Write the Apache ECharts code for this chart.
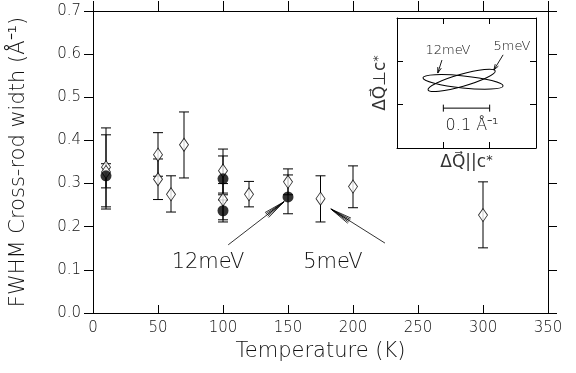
<!DOCTYPE html>
<html>
<head>
<meta charset="utf-8">
<script src="https://cdn.jsdelivr.net/npm/echarts@6/dist/echarts.min.js"></script>
<style>html,body{margin:0;padding:0;background:#fff;}#c{width:576px;height:373px;}</style>
</head>
<body>
<div id="c"></div>
<script>
// ---- main data (Temperature in K, FWHM in 1/Å) ----
const openT  = [10, 10, 50, 50, 60, 70, 100, 100, 120, 150, 175, 200, 300];
const openV  = [0.338, 0.327, 0.367, 0.310, 0.275, 0.390, 0.330, 0.263, 0.275, 0.304, 0.265, 0.293, 0.227];
const openLo = [0.246, 0.241, 0.317, 0.263, 0.234, 0.313, 0.278, 0.216, 0.246, 0.274, 0.211, 0.244, 0.151];
const openHi = [0.429, 0.413, 0.418, 0.357, 0.318, 0.466, 0.380, 0.300, 0.305, 0.334, 0.318, 0.341, 0.304];

const filledT  = [10, 100, 100, 150];
const filledV  = [0.318, 0.311, 0.237, 0.269];
const filledLo = [0.290, 0.274, 0.211, 0.230];
const filledHi = [0.346, 0.364, 0.262, 0.320];

const xTicks = [0, 50, 100, 150, 200, 250, 300, 350];
const yTicks = [0.0, 0.1, 0.2, 0.3, 0.4, 0.5, 0.6, 0.7];

// annotations in data coordinates
const noteLabels = ['12meV', '5meV'];
const notePos = [[88.5, 0.118], [184.6, 0.118]];
const noteArrows = [[104, 0.158, 147, 0.258], [224.6, 0.162, 183, 0.241]];

// ---- inset data (1/Å) ----
const ellipseLabels = ['12meV', '5meV'];
const ellipses = [[0.056, 0.162, 0.229, 0.143, 0.014], [0.067, 0.134, 0.212, 0.178, 0.014]];
const ellipseLabelPos = [[0.110, 0.224], [0.248, 0.233]];
const ellipseArrows = [[0.097, 0.203, 0.088, 0.173], [0.229, 0.215, 0.209, 0.180]];
const scaleBar = [[0.1, 0.2, 0.092]];
const scaleLabel = [[0.162, 0.051]];

const FONT = 'DejaVu Sans';
const FW = 'lighter';
const INK = '#000';
const TXT = '#111';

const openPts = openT.map((t, i) => [t, openV[i]]);
const filledPts = filledT.map((t, i) => [t, filledV[i]]);
const errRows = openT.map((t, i) => [t, openLo[i], openHi[i]])
  .concat(filledT.map((t, i) => [t, filledLo[i], filledHi[i]]));

function errRender(params, api) {
  const a = api.coord([api.value(0), api.value(1)]);
  const b = api.coord([api.value(0), api.value(2)]);
  const w = 5;
  const st = {stroke: INK, lineWidth: 1};
  return {type: 'group', children: [
    {type: 'line', shape: {x1: a[0], y1: a[1], x2: b[0], y2: b[1]}, style: st},
    {type: 'line', shape: {x1: a[0] - w, y1: a[1], x2: a[0] + w, y2: a[1]}, style: st},
    {type: 'line', shape: {x1: b[0] - w, y1: b[1], x2: b[0] + w, y2: b[1]}, style: st}
  ]};
}

function arrowRender(headLen, spread, lw) {
  return function (params, api) {
    const p1 = api.coord([api.value(0), api.value(1)]);
    const p2 = api.coord([api.value(2), api.value(3)]);
    const ang = Math.atan2(p1[1] - p2[1], p1[0] - p2[0]);
    const st = {stroke: INK, lineWidth: lw};
    const ch = [{type: 'line', shape: {x1: p1[0], y1: p1[1], x2: p2[0], y2: p2[1]}, style: st}];
    spread.forEach(d => {
      const a = ang + d * Math.PI / 180;
      ch.push({type: 'line', shape: {x1: p2[0], y1: p2[1], x2: p2[0] + headLen * Math.cos(a), y2: p2[1] + headLen * Math.sin(a)}, style: st});
    });
    return {type: 'group', children: ch};
  };
}

function textRender(labels, size) {
  return function (params, api) {
    const p = api.coord([api.value(0), api.value(1)]);
    return {type: 'text', x: p[0], y: p[1], style: {text: labels[params.dataIndex], fontSize: size, fontFamily: FONT, fontWeight: FW, fill: TXT, align: 'center', verticalAlign: 'middle'}};
  };
}

function ellipseRender(params, api) {
  const p1 = api.coord([api.value(0), api.value(1)]);
  const p2 = api.coord([api.value(2), api.value(3)]);
  const ry = api.size([0, api.value(4)])[1];
  const cx = (p1[0] + p2[0]) / 2, cy = (p1[1] + p2[1]) / 2;
  const rx = Math.hypot(p2[0] - p1[0], p2[1] - p1[1]) / 2;
  const ang = Math.atan2(p2[1] - p1[1], p2[0] - p1[0]);
  return {type: 'path', x: cx, y: cy, rotation: -ang,
    shape: {pathData: 'M ' + (-rx) + ' 0 A ' + rx + ' ' + ry + ' 0 1 0 ' + rx + ' 0 A ' + rx + ' ' + ry + ' 0 1 0 ' + (-rx) + ' 0 Z'},
    style: {fill: 'none', stroke: INK, lineWidth: 1}};
}

function scaleRender(params, api) {
  const a = api.coord([api.value(0), api.value(2)]);
  const b = api.coord([api.value(1), api.value(2)]);
  const h = 3.5;
  const st = {stroke: INK, lineWidth: 1};
  return {type: 'group', children: [
    {type: 'line', shape: {x1: a[0], y1: a[1], x2: b[0], y2: b[1]}, style: st},
    {type: 'line', shape: {x1: a[0], y1: a[1] - h, x2: a[0], y2: a[1] + h}, style: st},
    {type: 'line', shape: {x1: b[0], y1: b[1] - h, x2: b[0], y2: b[1] + h}, style: st}
  ]};
}

const axLine = {show: true, onZero: false, lineStyle: {color: INK, width: 1}};
function tick(inside, len) { return {show: true, inside: inside, length: len, lineStyle: {color: INK, width: 1}}; }
const richName = {a: {fontSize: 17, fontFamily: FONT, fontWeight: 'normal', color: '#333'}, s: {fontSize: 13, fontFamily: FONT, fontWeight: 'normal', color: '#333', verticalAlign: 'top'}};

const chart = echarts.init(document.getElementById('c'), null, {renderer: 'canvas', width: 576, height: 373});
chart.setOption({
  animation: false,
  backgroundColor: '#fff',
  grid: [
    {left: 93, top: 11, right: 28, bottom: 60},
    {left: 397, top: 18, width: 139, height: 130, show: true, backgroundColor: '#fff', borderWidth: 0}
  ],
  xAxis: [
    {gridIndex: 0, type: 'value', position: 'bottom', min: xTicks[0], max: xTicks[xTicks.length - 1], interval: 50,
      axisLine: axLine, axisTick: tick(true, 8), splitLine: {show: false},
      axisLabel: {fontSize: 15, fontFamily: FONT, fontWeight: FW, color: TXT, margin: 8},
      name: 'Temperature (K)', nameLocation: 'middle', nameGap: 28,
      nameTextStyle: {fontSize: 21, fontFamily: FONT, fontWeight: FW, color: TXT}},
    {gridIndex: 0, type: 'value', position: 'top', min: xTicks[0], max: xTicks[xTicks.length - 1], interval: 50,
      axisLine: axLine, axisTick: tick(false, 10), splitLine: {show: false}, axisLabel: {show: false}},
    {gridIndex: 1, type: 'value', position: 'bottom', min: 0, max: 0.3, interval: 0.1,
      axisLine: axLine, axisTick: tick(true, 6), splitLine: {show: false}, axisLabel: {show: false},
      name: '{a|ΔQ\u20D7||c}{s|*}', nameLocation: 'middle', nameGap: 6,
      nameTextStyle: {color: '#333', rich: richName}},
    {gridIndex: 1, type: 'value', position: 'top', min: 0, max: 0.3, interval: 0.1,
      axisLine: axLine, axisTick: tick(true, 6), splitLine: {show: false}, axisLabel: {show: false}}
  ],
  yAxis: [
    {gridIndex: 0, type: 'value', position: 'left', min: yTicks[0], max: yTicks[yTicks.length - 1], interval: 0.1,
      axisLine: axLine, axisTick: tick(false, 9), splitLine: {show: false},
      axisLabel: {fontSize: 15, fontFamily: FONT, fontWeight: FW, color: TXT, margin: 12, formatter: v => v.toFixed(1)},
      name: 'FWHM Cross-rod width (Å⁻¹)', nameLocation: 'middle', nameGap: 64,
      nameTextStyle: {fontSize: 21, fontFamily: FONT, fontWeight: FW, color: TXT}},
    {gridIndex: 0, type: 'value', position: 'right', min: yTicks[0], max: yTicks[yTicks.length - 1], interval: 0.1,
      axisLine: axLine, axisTick: tick(false, 9), splitLine: {show: false}, axisLabel: {show: false}},
    {gridIndex: 1, type: 'value', position: 'left', min: 0, max: 0.3, interval: 0.1,
      axisLine: axLine, axisTick: tick(true, 6), splitLine: {show: false}, axisLabel: {show: false},
      name: '{a|ΔQ\u20D7⊥c}{s|*}', nameLocation: 'middle', nameGap: 8,
      nameTextStyle: {color: '#333', rich: richName}},
    {gridIndex: 1, type: 'value', position: 'right', min: 0, max: 0.3, interval: 0.1,
      axisLine: axLine, axisTick: tick(true, 6), splitLine: {show: false}, axisLabel: {show: false}}
  ],
  series: [
    {type: 'custom', xAxisIndex: 0, yAxisIndex: 0, data: errRows, renderItem: errRender, clip: false, z: 2},
    {type: 'scatter', xAxisIndex: 0, yAxisIndex: 0, data: openPts, symbol: 'diamond', symbolSize: [9, 13],
      itemStyle: {color: '#fff', borderColor: INK, borderWidth: 0.9}, z: 3},
    {type: 'scatter', xAxisIndex: 0, yAxisIndex: 0, data: filledPts, symbol: 'circle', symbolSize: 11,
      itemStyle: {color: '#000', borderColor: INK, borderWidth: 0}, z: 4},
    {type: 'custom', xAxisIndex: 0, yAxisIndex: 0, data: noteArrows, renderItem: arrowRender(22, [-8, -4, 0, 4, 8], 0.8), clip: false, z: 5},
    {type: 'custom', xAxisIndex: 0, yAxisIndex: 0, data: notePos, renderItem: textRender(noteLabels, 21), clip: false, z: 5},
    {type: 'custom', xAxisIndex: 2, yAxisIndex: 2, data: ellipses, renderItem: ellipseRender, clip: false, z: 5},
    {type: 'custom', xAxisIndex: 2, yAxisIndex: 2, data: ellipseArrows, renderItem: arrowRender(6, [-18, 18], 0.9), clip: false, z: 5},
    {type: 'custom', xAxisIndex: 2, yAxisIndex: 2, data: ellipseLabelPos, renderItem: textRender(ellipseLabels, 13), clip: false, z: 5},
    {type: 'custom', xAxisIndex: 2, yAxisIndex: 2, data: scaleBar, renderItem: scaleRender, clip: false, z: 5},
    {type: 'custom', xAxisIndex: 2, yAxisIndex: 2, data: scaleLabel, renderItem: textRender(['0.1 Å⁻¹'], 16), clip: false, z: 5}
  ]
});
</script>
</body>
</html>
